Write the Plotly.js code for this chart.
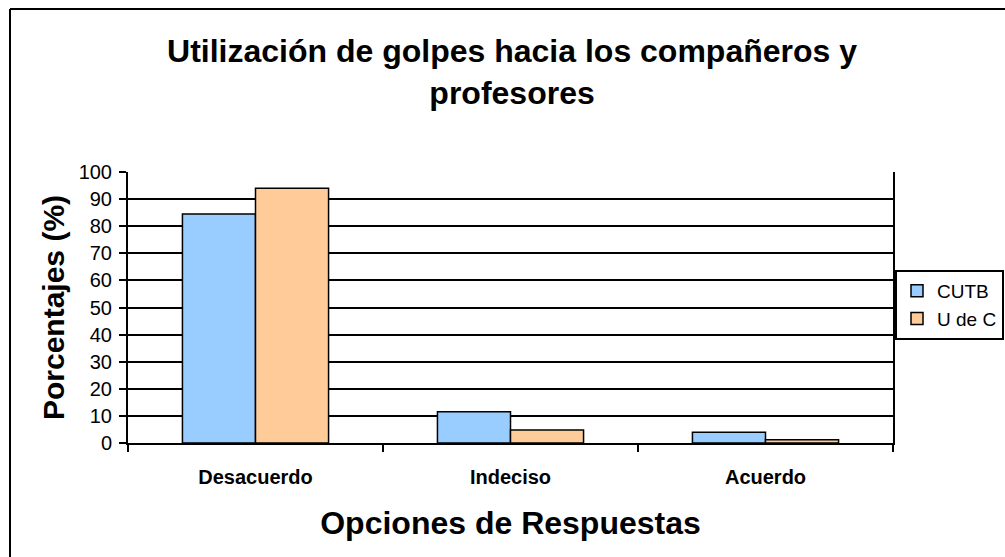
<!DOCTYPE html>
<html>
<head>
<meta charset="utf-8">
<script src="https://cdn.plot.ly/plotly-3.0.1.min.js"></script>
<style>
html,body{margin:0;padding:0;background:#fff;}
#chart{width:1005px;height:557px;}
</style>
</head>
<body>
<div id="chart"></div>
<script>
var categories = ["Desacuerdo", "Indeciso", "Acuerdo"];
var seriesNames = ["CUTB", "U de C"];
var cutb = [84.5, 11.5, 4.0];
var udec = [94.0, 4.8, 1.2];
var yTicks = [0, 10, 20, 30, 40, 50, 60, 70, 80, 90, 100];

var FONT = "Liberation Sans, Arial, sans-serif";

var traces = [
  {type: "bar", name: seriesNames[0], x: categories, y: cutb,
   marker: {color: "#99CCFF", line: {color: "#000", width: 1.5}}},
  {type: "bar", name: seriesNames[1], x: categories, y: udec,
   marker: {color: "#FFCC99", line: {color: "#000", width: 1.5}}}
];

var layout = {
  width: 1005, height: 557,
  margin: {l: 128, r: 112, t: 172, b: 114, pad: 0, autoexpand: false},
  paper_bgcolor: "#fff", plot_bgcolor: "#fff",
  font: {family: FONT, color: "#000"},
  title: {text: "Utilización de golpes hacia los compañeros y<br>profesores",
          font: {family: FONT, size: 32, color: "#000", weight: "bold"},
          x: 0.5095, xanchor: "center", y: 0.888, yanchor: "middle", yref: "container"},
  barmode: "group", bargap: 0.427, bargroupgap: 0,
  showlegend: true,
  legend: {x: (895 - 128) / 765, xanchor: "left", y: (443 - 270) / 271, yanchor: "top",
           bordercolor: "#000", borderwidth: 2, bgcolor: "#fff",
           font: {family: FONT, size: 19, color: "#000"},
           tracegroupgap: 0, itemwidth: 30},
  xaxis: {
    type: "category",
    showline: true, linecolor: "#000", linewidth: 2,
    ticks: "outside", tickson: "boundaries", ticklen: 7, tickwidth: 2, tickcolor: "#000",
    tickfont: {family: FONT, size: 20, color: "#000", weight: "bold"},
    ticklabelstandoff: 15,
    showgrid: false, zeroline: false,
    title: {text: "Opciones de Respuestas", font: {family: FONT, size: 32, color: "#000", weight: "bold"}, standoff: 25}
  },
  yaxis: {
    range: [0, 100],
    tickvals: yTicks, ticktext: yTicks.map(String),
    showline: true, mirror: true, linecolor: "#000", linewidth: 2,
    ticks: "outside", ticklen: 7, tickwidth: 2, tickcolor: "#000",
    tickfont: {family: FONT, size: 20, color: "#000"},
    ticklabelstandoff: 3,
    showgrid: true, gridcolor: "#000", gridwidth: 2,
    zeroline: false,
    title: {text: "Porcentajes (%)", font: {family: FONT, size: 30, color: "#000", weight: "bold"}, standoff: 5}
  },
  shapes: [
    {type: "line", xref: "paper", yref: "paper",
     x0: (10 - 128) / 765, x1: (10 - 128) / 765, y0: (443 - 9) / 271, y1: -2,
     line: {color: "#000", width: 2}},
    {type: "line", xref: "paper", yref: "paper",
     x0: (10 - 128) / 765, x1: 2, y0: (443 - 9) / 271, y1: (443 - 9) / 271,
     line: {color: "#000", width: 2}}
  ]
};

Plotly.newPlot("chart", traces, layout, {displayModeBar: false, staticPlot: true});
</script>
</body>
</html>
